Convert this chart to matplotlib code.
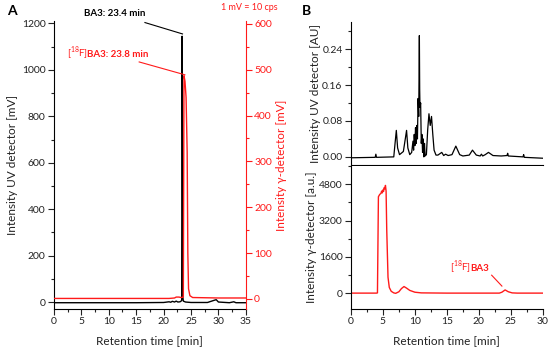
import matplotlib
matplotlib.use("Agg")
import matplotlib.pyplot as plt
from matplotlib.ticker import MultipleLocator
from matplotlib.transforms import offset_copy

plt.rcParams['font.family'] = ['Lato', 'DejaVu Sans']
plt.rcParams['mathtext.fontset'] = 'custom'
plt.rcParams['mathtext.rm'] = 'Lato'
plt.rcParams['font.size'] = 7.5

RED = '#ff1a1a'
INK = '#222222'

# --- panel A: UV trace (mV) and gamma trace (mV)
a_uv_t = [0, 5, 10, 15, 20, 21.0, 21.3, 21.6, 22.0, 22.3, 22.6, 23.0, 23.3, 23.38, 23.45, 23.52, 23.6, 24.0, 25, 28, 29.3, 29.6, 30.0, 32, 32.8, 33.2, 35]
a_uv_v = [-3, -3, -3, -3, -2, 1, -1, 3, 0, 4, 0, 1, 6, 1145, 700, 20, 4, 0, -2, -2, 8, 10, 0, -3, 1, -3, -3]

a_gam_t = [0, 21, 22.0, 22.3, 22.8, 23.2, 23.6, 23.72, 23.9, 24.1, 24.3, 24.42, 24.55, 24.8, 25.3, 30, 35]
a_gam_v = [1, 1, 2, 4, 4, 3, 4, 487, 475, 440, 320, 100, 22, 7, 3, 2, 2]

# --- panel B: UV trace (AU) and gamma trace (a.u.)
b_uv_t = [0, 3.8, 3.9, 4.0, 6.7, 6.9, 7.1, 7.3, 7.6, 8.2, 8.5, 8.7, 8.9, 9.2, 9.5, 9.7, 9.8, 9.9, 10.0, 10.1, 10.2, 10.3, 10.4, 10.5,
          10.6, 10.7, 10.75, 10.8, 10.9, 11.0, 11.1, 11.2, 11.3, 11.4, 11.5, 11.6, 11.8, 12.0, 12.2, 12.4, 12.6, 12.8, 13.0, 13.3, 13.6,
          14.2, 14.5, 14.8, 15.2, 15.5, 15.8, 16.4, 17.0, 17.5, 18.5, 19.0, 19.6, 20.2, 20.4, 20.6, 21.0, 21.5, 22.2, 23.5, 24.4, 24.5,
          24.6, 26.9, 27.0, 27.1, 30]
b_uv_v = [-0.002, -0.001, 0.006, -0.001, 0.000, 0.03, 0.059, 0.02, 0.005, 0.012, 0.04, 0.059, 0.02, 0.005, 0.01, 0.035, 0.015, 0.05, 0.025,
          0.065, 0.03, 0.07, 0.04, 0.13, 0.09, 0.27, 0.15, 0.11, 0.12, 0.03, 0.05, 0.01, 0.04, 0.0, 0.03, 0.002, 0.005, 0.06, 0.096, 0.07,
          0.09, 0.05, 0.015, 0.004, 0.004, 0.01, 0.003, 0.006, 0.003, 0.004, 0.005, 0.024, 0.005, 0.002, 0.004, 0.015, 0.004, 0.002, 0.006,
          0.002, 0.005, 0.010, 0.003, 0.002, 0.003, 0.008, 0.002, 0.0, 0.005, -0.001, -0.003]

b_gam_t = [0, 4.0, 4.15, 4.3, 4.5, 4.7, 4.8, 4.9, 5.0, 5.1, 5.2, 5.3, 5.4, 5.5, 5.6, 5.8, 6.0, 6.3, 6.7, 7.0, 7.5, 7.9, 8.3, 8.7, 9.2,
           10.0, 11, 15, 20, 23.2, 23.6, 24.1, 24.6, 25.2, 26, 30]
b_gam_v = [0, 0, 10, 4250, 4350, 4400, 4500, 4420, 4550, 4480, 4650, 4600, 4750, 4500, 2800, 700, 250, 80, 10, -10, 60, 200, 290, 220,
           120, 40, 10, 0, 0, 0, 40, 140, 60, 10, 0, 0]

fig = plt.figure(figsize=(5.5, 3.51), dpi=100)


def style_ticks(ax, color=INK):
    ax.tick_params(which='both', direction='out', colors=color, labelcolor=color, width=0.8)
    ax.tick_params(which='major', length=4, pad=2)
    ax.tick_params(which='minor', length=2.2)


def iso_label(ax, x, y, bold_part):
    # "[18F]" in regular weight, followed by the bold name
    t1 = ax.text(x, y, r'[$^{18}$F]', fontsize=7, color=RED, ha='left', va='baseline')
    fig.canvas.draw()
    w = t1.get_window_extent().width * 72 / fig.dpi
    tr = offset_copy(ax.transData, fig=fig, x=w - 0.6, y=0, units='points')
    ax.text(x, y, bold_part, fontsize=7, fontweight='bold', color=RED, ha='left', va='baseline', transform=tr)


# ---------------- A ----------------
axA = fig.add_axes([0.098, 0.1197, 0.349, 0.82])
axA.plot(a_uv_t, a_uv_v, color='black', lw=1.0)
axA.set_xlim(0, 35)
axA.set_ylim(-30, 1210)
axA.xaxis.set_major_locator(MultipleLocator(5))
axA.xaxis.set_minor_locator(MultipleLocator(2.5))
axA.yaxis.set_major_locator(MultipleLocator(200))
axA.yaxis.set_minor_locator(MultipleLocator(100))
axA.spines['top'].set_visible(False)
axA.spines['right'].set_visible(False)
style_ticks(axA)
axA.set_xlabel('Retention time [min]', fontsize=8.5, color=INK, labelpad=6)
axA.set_ylabel('Intensity UV detector [mV]', fontsize=8.5, color=INK, labelpad=3)

axA2 = axA.twinx()
axA2.plot(a_gam_t, a_gam_v, color=RED, lw=1.0)
axA2.set_ylim(-22, 606)
axA2.yaxis.set_major_locator(MultipleLocator(100))
axA2.yaxis.set_minor_locator(MultipleLocator(50))
for s in ['top', 'left', 'bottom']:
    axA2.spines[s].set_visible(False)
axA2.spines['right'].set_color(RED)
style_ticks(axA2, RED)
axA2.set_ylabel('Intensity γ-detector [mV]', fontsize=8.5, color=RED, labelpad=3)

# annotations A
axA.text(16.6, 1225, 'BA3: 23.4 min', fontsize=7, fontweight='bold', color='black', ha='right', va='bottom')
axA.plot([16.6, 23.45], [1204, 1155], color='black', lw=0.8, clip_on=False)
iso_label(axA2, 2.3, 527, 'BA3: 23.8 min')
axA2.plot([15.55, 23.88], [517, 489], color=RED, lw=0.8, clip_on=False)
fig.text(0.505, 0.978, '1 mV = 10 cps', fontsize=6.5, color=RED, ha='right', va='center')
fig.text(0.012, 0.968, 'A', fontsize=10, fontweight='bold', ha='left', va='center')

# ---------------- B top ----------------
axB1 = fig.add_axes([0.638, 0.530, 0.349, 0.407])
axB1.plot(b_uv_t, b_uv_v, color='black', lw=0.9)
axB1.set_xlim(0, 30)
axB1.set_ylim(-0.018, 0.30)
axB1.yaxis.set_major_locator(MultipleLocator(0.08))
axB1.yaxis.set_minor_locator(MultipleLocator(0.04))
axB1.yaxis.set_major_formatter(plt.FormatStrFormatter('%.2f'))
axB1.spines['top'].set_visible(False)
axB1.spines['right'].set_visible(False)
style_ticks(axB1)
axB1.tick_params(axis='x', which='both', bottom=False, labelbottom=False)
axB1.set_ylabel('Intensity UV detector [AU]', fontsize=8.5, color=INK, labelpad=1)
fig.text(0.549, 0.968, 'B', fontsize=10, fontweight='bold', ha='left', va='center')

# ---------------- B bottom ----------------
axB2 = fig.add_axes([0.638, 0.1197, 0.349, 0.407])
axB2.plot(b_gam_t, b_gam_v, color=RED, lw=1.0)
axB2.set_xlim(0, 30)
axB2.set_ylim(-700, 5600)
axB2.xaxis.set_major_locator(MultipleLocator(5))
axB2.xaxis.set_minor_locator(MultipleLocator(2.5))
axB2.yaxis.set_major_locator(MultipleLocator(1600))
axB2.yaxis.set_minor_locator(MultipleLocator(800))
axB2.spines['top'].set_visible(False)
axB2.spines['right'].set_visible(False)
style_ticks(axB2)
axB2.set_xlabel('Retention time [min]', fontsize=8.5, color=INK, labelpad=6)
axB2.set_ylabel('Intensity γ-detector [a.u.]', fontsize=8.5, color=INK, labelpad=1)
iso_label(axB2, 15.5, 960, 'BA3')
axB2.plot([22.0, 23.6], [790, 310], color=RED, lw=0.8)

fig.savefig('out.png', dpi=100)
